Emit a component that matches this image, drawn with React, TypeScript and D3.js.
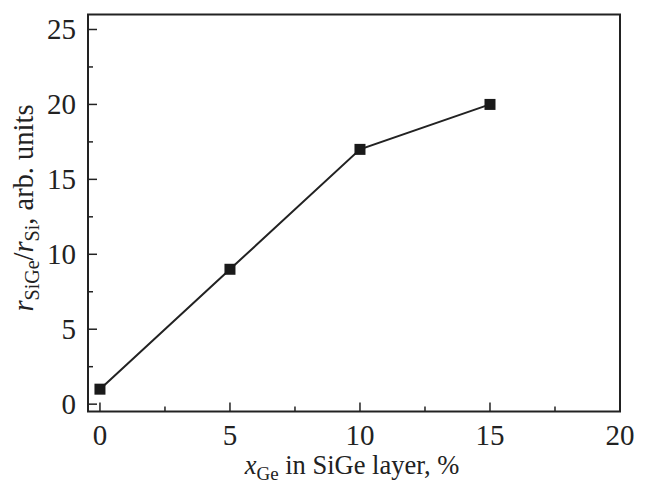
import React, { useEffect, useRef } from "react";
import * as d3 from "d3";

const xValues = [0, 5, 10, 15];
const yValues = [1, 9, 17, 20];
const xTicks = [0, 5, 10, 15, 20];
const yTicks = [0, 5, 10, 15, 20, 25];

const sizes = { width: 645, height: 484 };
const margin = { top: 14.5, right: 25, bottom: 72.5, left: 88 };

const font = "'Liberation Serif', 'Times New Roman', serif";

export default function App() {
  const ref = useRef<SVGSVGElement>(null);

  useEffect(() => {
    const svg = d3.select(ref.current);
    svg.selectAll("*").remove();

    const x = d3.scaleLinear()
      .domain([-0.46, 20])
      .range([margin.left, sizes.width - margin.right]);
    const y = d3.scaleLinear()
      .domain([-0.49, 26])
      .range([sizes.height - margin.bottom, margin.top]);

    const x0 = margin.left, x1 = sizes.width - margin.right;
    const y0 = sizes.height - margin.bottom, y1 = margin.top;

    // frame
    svg.append("rect")
      .attr("x", x0).attr("y", y1)
      .attr("width", x1 - x0).attr("height", y0 - y1)
      .attr("fill", "none").attr("stroke", "#222").attr("stroke-width", 2);

    // x ticks (inward)
    const xMinor = d3.range(2.5, 20, 5);
    svg.append("g").selectAll("line").data(xTicks).join("line")
      .attr("x1", (d) => x(d)).attr("x2", (d) => x(d))
      .attr("y1", y0).attr("y2", y0 - 9)
      .attr("stroke", "#222").attr("stroke-width", 1.5);
    svg.append("g").selectAll("line").data(xMinor).join("line")
      .attr("x1", (d) => x(d)).attr("x2", (d) => x(d))
      .attr("y1", y0).attr("y2", y0 - 5)
      .attr("stroke", "#222").attr("stroke-width", 1.5);
    svg.append("g").selectAll("text").data(xTicks).join("text")
      .attr("x", (d) => x(d)).attr("y", y0 + 33)
      .attr("text-anchor", "middle")
      .attr("font-family", font).attr("font-size", 29).attr("fill", "#222")
      .text((d) => d);

    // y ticks
    const yMinor = d3.range(2.5, 26, 5);
    svg.append("g").selectAll("line").data(yTicks).join("line")
      .attr("x1", x0).attr("x2", x0 + 9)
      .attr("y1", (d) => y(d)).attr("y2", (d) => y(d))
      .attr("stroke", "#222").attr("stroke-width", 1.5);
    svg.append("g").selectAll("line").data(yMinor).join("line")
      .attr("x1", x0).attr("x2", x0 + 5)
      .attr("y1", (d) => y(d)).attr("y2", (d) => y(d))
      .attr("stroke", "#222").attr("stroke-width", 1.5);
    svg.append("g").selectAll("text").data(yTicks).join("text")
      .attr("x", x0 - 12).attr("y", (d) => y(d) + 10)
      .attr("text-anchor", "end")
      .attr("font-family", font).attr("font-size", 29).attr("fill", "#222")
      .text((d) => d);

    // line + markers
    const pts = xValues.map((v, i) => [v, yValues[i]] as [number, number]);
    svg.append("path")
      .datum(pts)
      .attr("d", d3.line<[number, number]>().x((d) => x(d[0])).y((d) => y(d[1])))
      .attr("fill", "none").attr("stroke", "#222").attr("stroke-width", 2);
    svg.append("g").selectAll("rect").data(pts).join("rect")
      .attr("x", (d) => x(d[0]) - 5.5).attr("y", (d) => y(d[1]) - 5.5)
      .attr("width", 11).attr("height", 11)
      .attr("fill", "#1a1a1a");

    // x label
    const xl = svg.append("text")
      .attr("x", 352).attr("y", 474)
      .attr("text-anchor", "middle")
      .attr("font-family", font).attr("font-size", 26.5).attr("fill", "#222");
    xl.append("tspan").attr("font-style", "italic").text("x");
    xl.append("tspan").attr("font-size", 19).attr("dy", 6).text("Ge");
    xl.append("tspan").attr("dy", -6).text(" in SiGe layer, %");

    // y label
    const yl = svg.append("text")
      .attr("transform", `translate(33, 208) rotate(-90)`)
      .attr("text-anchor", "middle")
      .attr("font-family", font).attr("font-size", 28.5).attr("fill", "#222");
    yl.append("tspan").attr("font-style", "italic").text("r");
    yl.append("tspan").attr("font-size", 20).attr("dy", 6).text("SiGe");
    yl.append("tspan").attr("dy", -6).text("/");
    yl.append("tspan").attr("font-style", "italic").text("r");
    yl.append("tspan").attr("font-size", 20).attr("dy", 6).text("Si");
    yl.append("tspan").attr("dy", -6).text(", arb. units");
  }, []);

  return (
    <svg
      ref={ref}
      width={sizes.width}
      height={sizes.height}
      style={{ position: "absolute", left: 0, top: 0, background: "#fff" }}
    />
  );
}
